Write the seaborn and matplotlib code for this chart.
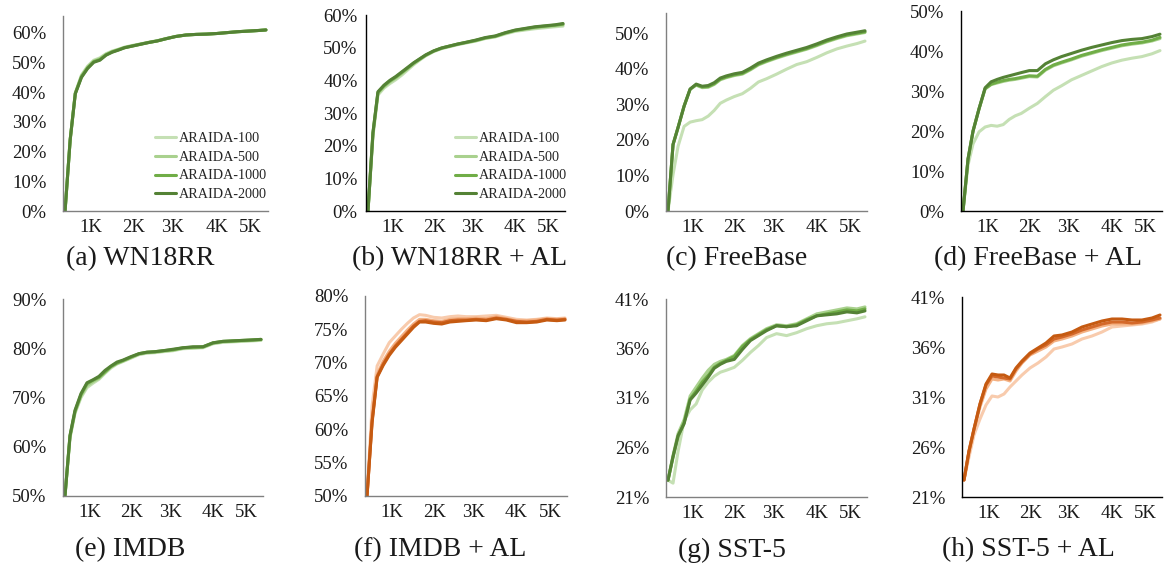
import seaborn as sns, matplotlib.pyplot as plt, pandas as pd

# shared x grid (position along the axis, 0..100) and tick labels
steps = [1, 3.5, 6, 9, 12, 15, 18, 21, 24, 27, 30, 34, 38, 42, 46, 50, 55, 60, 65, 70, 75, 80, 85, 90, 95, 99]
tick_pos = [13.5, 34.3, 53.5, 75, 91.5]
tick_lab = ["1K", "2K", "3K", "4K", "5K"]
models = ["ARAIDA-100", "ARAIDA-500", "ARAIDA-1000", "ARAIDA-2000"]

# (a) WN18RR
a_100 = [0, 24, 39.8, 45.8, 48.8, 50.8, 51.6, 53.0, 53.9, 54.5, 55.2, 55.8, 56.3, 56.9, 57.4, 58.1, 58.8, 59.3, 59.5, 59.6, 59.8, 60.1, 60.4, 60.6, 60.8, 61.0]
a_500 = [0, 24, 39.7, 45.5, 48.5, 50.5, 51.3, 52.8, 53.7, 54.4, 55.1, 55.7, 56.3, 56.8, 57.3, 58.0, 58.8, 59.3, 59.5, 59.6, 59.8, 60.1, 60.4, 60.6, 60.8, 61.0]
a_1000 = [0, 24, 39.6, 45.2, 48.2, 50.3, 51.0, 52.6, 53.6, 54.3, 55.0, 55.6, 56.2, 56.8, 57.3, 58.0, 58.8, 59.3, 59.5, 59.6, 59.8, 60.1, 60.4, 60.6, 60.8, 61.0]
a_2000 = [0, 24, 39.5, 45, 48, 50.1, 50.8, 52.5, 53.5, 54.2, 55.0, 55.6, 56.2, 56.8, 57.3, 58.0, 58.8, 59.3, 59.5, 59.6, 59.8, 60.1, 60.4, 60.6, 60.8, 61.0]

# (b) WN18RR + AL
b_100 = [0, 23, 35.5, 37.6, 39.0, 40.2, 41.6, 43.2, 44.8, 46.2, 47.5, 48.8, 49.7, 50.3, 50.9, 51.4, 52.0, 52.8, 53.3, 54.2, 55.0, 55.4, 55.8, 56.1, 56.4, 56.6]
b_500 = [0, 23.5, 36.0, 38.0, 39.5, 40.7, 42.1, 43.6, 45.1, 46.4, 47.6, 48.9, 49.8, 50.4, 51.0, 51.5, 52.1, 52.9, 53.4, 54.4, 55.2, 55.6, 56.1, 56.4, 56.7, 57.0]
b_1000 = [0, 24, 36.3, 38.3, 39.8, 41.0, 42.4, 43.8, 45.3, 46.5, 47.7, 49.0, 49.9, 50.5, 51.1, 51.6, 52.2, 53.0, 53.5, 54.5, 55.3, 55.8, 56.3, 56.6, 56.9, 57.2]
b_2000 = [0, 24, 36.5, 38.5, 40.0, 41.2, 42.6, 44.0, 45.4, 46.6, 47.8, 49.0, 49.9, 50.5, 51.1, 51.6, 52.3, 53.1, 53.6, 54.6, 55.4, 55.9, 56.4, 56.7, 57.0, 57.4]

# (c) FreeBase
c_100 = [0, 10.2, 18.2, 23.8, 25.0, 25.4, 25.7, 26.7, 28.3, 30.3, 31.2, 32.2, 33.0, 34.5, 36.3, 37.2, 38.5, 39.9, 41.2, 42.0, 43.2, 44.5, 45.6, 46.4, 47.1, 47.8]
c_500 = [0, 18.7, 23.5, 29.5, 34.2, 35.4, 34.7, 34.8, 35.6, 36.9, 37.5, 38.1, 38.5, 39.7, 41.1, 42.0, 43.0, 43.9, 44.7, 45.5, 46.5, 47.6, 48.5, 49.3, 49.8, 50.2]
c_1000 = [0, 18.7, 23.5, 29.5, 34.3, 35.5, 34.9, 35.0, 35.8, 37.1, 37.7, 38.3, 38.7, 39.9, 41.3, 42.2, 43.2, 44.1, 44.9, 45.7, 46.7, 47.8, 48.7, 49.5, 50.0, 50.4]
c_2000 = [0, 18.7, 23.5, 29.5, 34.3, 35.7, 35.1, 35.3, 36.1, 37.4, 38.0, 38.6, 39.0, 40.2, 41.6, 42.5, 43.5, 44.4, 45.2, 46.0, 47.0, 48.1, 49.0, 49.8, 50.3, 50.7]

# (d) FreeBase + AL
d_100 = [0, 11.5, 16.8, 19.8, 21.0, 21.4, 21.2, 21.6, 22.9, 23.8, 24.4, 25.7, 26.9, 28.6, 30.2, 31.3, 32.8, 33.9, 35.0, 36.1, 37.0, 37.7, 38.2, 38.6, 39.3, 40.1]
d_500 = [0, 13, 20, 25.6, 30.5, 31.6, 32.0, 32.4, 32.7, 32.9, 33.2, 33.6, 33.5, 35.2, 36.3, 37.0, 37.8, 38.7, 39.4, 40.1, 40.7, 41.3, 41.7, 42.0, 42.5, 43.1]
d_1000 = [0, 13, 20, 25.6, 30.6, 31.7, 32.2, 32.6, 32.9, 33.1, 33.4, 33.8, 33.7, 35.4, 36.5, 37.2, 38.0, 38.9, 39.6, 40.3, 40.9, 41.5, 41.9, 42.2, 42.7, 43.4]
d_2000 = [0, 13, 20, 25.6, 30.8, 32.3, 32.9, 33.4, 33.8, 34.2, 34.6, 35.1, 35.1, 36.8, 37.8, 38.6, 39.4, 40.2, 40.9, 41.5, 42.1, 42.6, 42.9, 43.1, 43.6, 44.2]

# (e) IMDB
e_100 = [50.1, 61.8, 66.8, 70.0, 72.0, 72.9, 73.7, 74.9, 76.0, 76.8, 77.3, 78.0, 78.7, 79.0, 79.1, 79.3, 79.5, 79.9, 80.0, 80.1, 80.9, 81.2, 81.3, 81.4, 81.5, 81.6]
e_500 = [50.1, 62.0, 67.0, 70.3, 72.4, 73.2, 73.9, 75.1, 76.2, 76.9, 77.4, 78.1, 78.8, 79.1, 79.2, 79.4, 79.6, 80.0, 80.1, 80.2, 81.0, 81.3, 81.4, 81.5, 81.6, 81.7]
e_1000 = [50.1, 62.2, 67.2, 70.6, 72.8, 73.5, 74.1, 75.2, 76.3, 77.0, 77.5, 78.2, 78.9, 79.2, 79.3, 79.5, 79.7, 80.1, 80.2, 80.3, 81.1, 81.4, 81.5, 81.6, 81.7, 81.8]
e_2000 = [50.1, 62.3, 67.4, 70.8, 73.0, 73.6, 74.3, 75.5, 76.4, 77.2, 77.6, 78.3, 78.9, 79.2, 79.3, 79.5, 79.8, 80.1, 80.3, 80.3, 81.1, 81.4, 81.5, 81.6, 81.7, 81.8]

# (f) IMDB + AL
f_100 = [50.0, 63.5, 69.5, 71.3, 73.0, 74.0, 75.0, 75.9, 76.7, 77.2, 77.1, 76.8, 76.7, 76.9, 77.0, 76.9, 76.9, 77.0, 77.1, 76.8, 76.5, 76.4, 76.5, 76.7, 76.6, 76.7]
f_500 = [50.0, 61.5, 68.2, 70.2, 71.7, 72.9, 73.9, 74.9, 75.8, 76.5, 76.5, 76.3, 76.2, 76.5, 76.6, 76.6, 76.7, 76.6, 76.9, 76.6, 76.3, 76.3, 76.4, 76.6, 76.5, 76.6]
f_1000 = [50.0, 61.2, 67.9, 69.8, 71.3, 72.5, 73.5, 74.5, 75.5, 76.2, 76.3, 76.1, 76.0, 76.3, 76.4, 76.4, 76.5, 76.4, 76.7, 76.5, 76.2, 76.1, 76.2, 76.5, 76.4, 76.5]
f_2000 = [50.0, 61.0, 67.8, 69.6, 71.1, 72.3, 73.3, 74.3, 75.3, 76.1, 76.1, 75.9, 75.8, 76.1, 76.2, 76.3, 76.4, 76.3, 76.6, 76.4, 76.0, 76.0, 76.1, 76.4, 76.3, 76.4]

# (g) SST-5
g_100 = [22.7, 22.4, 25.6, 28.7, 29.8, 30.4, 31.8, 32.6, 33.2, 33.6, 33.8, 34.1, 34.8, 35.6, 36.3, 37.1, 37.5, 37.3, 37.6, 38.0, 38.3, 38.5, 38.6, 38.8, 39.0, 39.2]
g_500 = [22.7, 25.2, 27.4, 28.8, 31.2, 32.1, 33.0, 33.8, 34.4, 34.7, 34.9, 35.3, 36.3, 37.0, 37.5, 38.0, 38.4, 38.3, 38.5, 39.0, 39.5, 39.7, 39.9, 40.1, 40.0, 40.2]
g_1000 = [22.7, 25.0, 27.1, 28.5, 30.9, 31.7, 32.6, 33.3, 34.1, 34.5, 34.8, 35.2, 36.2, 36.9, 37.4, 37.9, 38.3, 38.2, 38.4, 38.9, 39.3, 39.5, 39.7, 39.9, 39.8, 40.0]
g_2000 = [22.7, 25.1, 27.2, 28.4, 30.8, 31.5, 32.3, 33.1, 34.0, 34.4, 34.7, 34.9, 35.9, 36.8, 37.3, 37.8, 38.3, 38.2, 38.3, 38.8, 39.3, 39.4, 39.5, 39.7, 39.6, 39.8]

# (h) SST-5 + AL
h_100 = [22.7, 25.0, 27.2, 28.8, 30.2, 31.1, 31.0, 31.3, 32.0, 32.6, 33.2, 33.9, 34.4, 35.0, 35.8, 36.0, 36.3, 36.8, 37.1, 37.5, 38.0, 38.1, 38.2, 38.3, 38.5, 38.8]
h_500 = [22.7, 25.5, 27.7, 30.0, 31.8, 32.8, 32.7, 32.8, 32.6, 33.6, 34.4, 35.2, 35.6, 36.0, 36.6, 36.8, 37.1, 37.5, 37.8, 38.1, 38.3, 38.3, 38.3, 38.4, 38.6, 38.8]
h_1000 = [22.7, 25.6, 27.8, 30.3, 32.2, 33.1, 33.0, 32.9, 32.8, 33.8, 34.5, 35.3, 35.8, 36.2, 36.8, 37.0, 37.3, 37.7, 38.0, 38.3, 38.5, 38.5, 38.4, 38.5, 38.7, 38.9]
h_2000 = [22.7, 25.6, 27.8, 30.3, 32.3, 33.3, 33.2, 33.2, 32.9, 33.9, 34.6, 35.4, 35.9, 36.4, 37.1, 37.2, 37.5, 38.0, 38.3, 38.6, 38.8, 38.8, 38.7, 38.7, 38.9, 39.2]

captions = ["(a) WN18RR", "(b) WN18RR + AL", "(c) FreeBase", "(d) FreeBase + AL",
            "(e) IMDB", "(f) IMDB + AL", "(g) SST-5", "(h) SST-5 + AL"]
panels = [[a_100, a_500, a_1000, a_2000], [b_100, b_500, b_1000, b_2000],
          [c_100, c_500, c_1000, c_2000], [d_100, d_500, d_1000, d_2000],
          [e_100, e_500, e_1000, e_2000], [f_100, f_500, f_1000, f_2000],
          [g_100, g_500, g_1000, g_2000], [h_100, h_500, h_1000, h_2000]]
ylims = [(0, 65.7), (0, 60), (0, 55.7), (0, 50), (50, 90), (50, 80), (21, 41), (21, 41)]
yticks = [range(0, 61, 10), range(0, 61, 10), range(0, 51, 10), range(0, 51, 10),
          range(50, 91, 10), range(50, 81, 5), range(21, 42, 5), range(21, 42, 5)]

greens = ["#c5e0b4", "#a9d18e", "#70ad47", "#548235"]
oranges = ["#f8cbad", "#f4b183", "#d4692a", "#c55a11"]
palettes = [greens] * 5 + [oranges, greens, oranges]
spine_col = ["#808080", "#000000", "#808080", "#000000", "#808080", "#808080", "#808080", "#000000"]

# axes boxes in pixels: left, right, top, bottom
W, H = 1164, 569
boxes = [(63, 268, 16, 211), (366, 565, 15, 211), (666, 867, 13, 211), (961, 1162, 11, 211),
         (63, 263, 299, 496), (365, 567, 296, 496), (666, 867, 299, 497), (962, 1162, 297, 497)]
cap_xy = [(140, 259), (460, 259), (737, 259), (1038, 259), (130, 550), (440, 550), (732, 550), (1028, 550)]

sns.set_style("white")
plt.rcParams["font.family"] = ["Liberation Serif", "DejaVu Serif"]

fig = plt.figure(figsize=(W / 100, H / 100), dpi=100)

for i, series in enumerate(panels):
    l, r, t, b = boxes[i]
    ax = fig.add_axes([l / W, 1 - b / H, (r - l) / W, (b - t) / H])
    df = pd.DataFrame({"step": steps * 4,
                       "acc": sum(series, []),
                       "model": [m for m in models for _ in steps]})
    sns.lineplot(data=df, x="step", y="acc", hue="model", palette=palettes[i],
                 linewidth=2.2, ax=ax, legend=(i < 2))
    ax.set_xlim(0, 100)
    ax.set_ylim(*ylims[i])
    ax.set_xticks(tick_pos)
    ax.set_xticklabels(tick_lab)
    ax.set_yticks(list(yticks[i]))
    ax.set_yticklabels([f"{v}%" for v in yticks[i]])
    ax.set_xlabel("")
    ax.set_ylabel("")
    ax.tick_params(axis="both", length=0, labelsize=13.5, colors="#1a1a1a")
    ax.tick_params(axis="y", pad=6 if i == 1 else 12)
    ax.tick_params(axis="x", pad=6)
    for s in ["top", "right"]:
        ax.spines[s].set_visible(False)
    for s in ["left", "bottom"]:
        ax.spines[s].set_color(spine_col[i])
        ax.spines[s].set_linewidth(1.0)
    if i < 2:
        h, lab = ax.get_legend_handles_labels()
        ax.legend(h, lab, loc="lower left", bbox_to_anchor=(0.42, 0.02), frameon=False,
                  fontsize=10.2, handlelength=1.5, handletextpad=0.2, labelspacing=0.42,
                  borderaxespad=0)
    fig.text(cap_xy[i][0] / W, 1 - cap_xy[i][1] / H, captions[i], ha="center", va="center",
             fontsize=20, color="#1a1a1a")

fig.savefig("out.png", dpi=100)
